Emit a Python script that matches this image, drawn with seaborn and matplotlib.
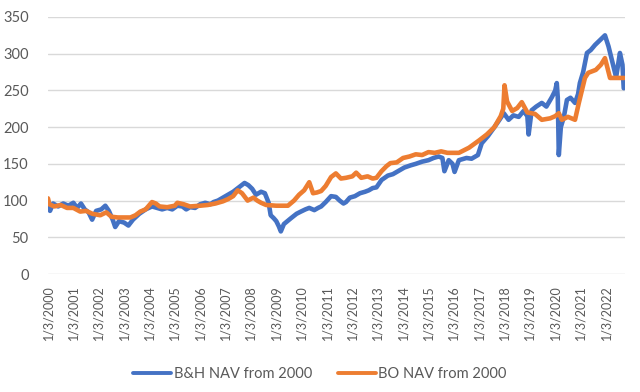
import matplotlib
matplotlib.use("Agg")
import matplotlib.pyplot as plt
import seaborn as sns
import pandas as pd
from matplotlib.lines import Line2D

# ---- data (fractional year, NAV) ----
bh_t = [2000.00, 2000.08, 2000.20, 2000.40, 2000.60, 2000.80, 2001.00, 2001.15, 2001.30, 2001.45,
        2001.60, 2001.74, 2001.90, 2002.10, 2002.26, 2002.40, 2002.55, 2002.65, 2002.80, 2003.00,
        2003.17, 2003.35, 2003.60, 2003.85, 2004.10, 2004.30, 2004.50, 2004.70, 2004.90, 2005.10,
        2005.30, 2005.45, 2005.60, 2005.80, 2006.00, 2006.20, 2006.40, 2006.53, 2006.70, 2006.90,
        2007.10, 2007.30, 2007.60, 2007.75, 2007.90, 2008.05, 2008.20, 2008.40, 2008.55, 2008.70,
        2008.78, 2008.90, 2009.00, 2009.10, 2009.18, 2009.30, 2009.58, 2009.80, 2009.97, 2010.15,
        2010.30, 2010.50, 2010.65, 2010.77, 2010.95, 2011.16, 2011.35, 2011.50, 2011.65, 2011.75,
        2011.90, 2012.10, 2012.30, 2012.50, 2012.65, 2012.80, 2012.95, 2013.15, 2013.40, 2013.60,
        2013.80, 2014.05, 2014.30, 2014.50, 2014.75, 2015.00, 2015.20, 2015.40, 2015.55, 2015.63,
        2015.80, 2015.95, 2016.03, 2016.20, 2016.50, 2016.70, 2016.95, 2017.10, 2017.35, 2017.60,
        2017.80, 2017.97, 2018.16, 2018.35, 2018.56, 2018.75, 2018.90, 2018.95, 2019.07, 2019.25,
        2019.47, 2019.65, 2019.87, 2020.00, 2020.06, 2020.10, 2020.14, 2020.22, 2020.34, 2020.46,
        2020.60, 2020.78, 2020.90, 2020.97, 2021.10, 2021.25, 2021.40, 2021.57, 2021.75, 2021.96,
        2022.10, 2022.30, 2022.40, 2022.50, 2022.55, 2022.65, 2022.70]
bh_v = [100, 86, 96, 92, 96, 93, 97, 90, 96, 88,
        84, 74, 86, 88, 93, 86, 74, 64, 72, 70,
        66, 74, 82, 88, 92, 90, 88, 90, 88, 93,
        92, 88, 91, 90, 95, 97, 95, 98, 100, 104,
        108, 112, 120, 124, 121, 116, 108, 112, 110, 97,
        80, 76, 72, 65, 58, 68, 76, 82, 85, 88,
        90, 87, 90, 92, 98, 106, 105, 100, 96, 98,
        104, 106, 110, 112, 114, 117, 118, 128, 134, 136,
        140, 145, 148, 150, 153, 155, 158, 160, 158, 140,
        155, 150, 139, 155, 158, 157, 162, 178, 188, 200,
        210, 219, 210, 216, 214, 222, 215, 190, 223, 228,
        233, 228, 241, 250, 260, 240, 162, 200, 214, 237,
        240, 233, 245, 260, 275, 301, 305, 312, 318, 325,
        310, 282, 268, 290, 301, 285, 253]

bo_t = [2000.00, 2000.05, 2000.25, 2000.50, 2000.75, 2001.00, 2001.27, 2001.50, 2001.75, 2002.06,
        2002.30, 2002.50, 2002.75, 2003.25, 2003.45, 2003.64, 2003.85, 2004.10, 2004.25, 2004.40,
        2004.70, 2005.00, 2005.10, 2005.35, 2005.60, 2006.00, 2006.30, 2006.60, 2006.90, 2007.10,
        2007.30, 2007.48, 2007.65, 2007.87, 2008.10, 2008.25, 2008.40, 2008.60, 2009.00, 2009.46,
        2009.70, 2009.90, 2010.10, 2010.30, 2010.45, 2010.60, 2010.77, 2010.95, 2011.16, 2011.35,
        2011.55, 2011.75, 2012.00, 2012.15, 2012.35, 2012.60, 2012.80, 2012.95, 2013.15, 2013.35,
        2013.50, 2013.75, 2014.00, 2014.25, 2014.50, 2014.75, 2015.00, 2015.25, 2015.50, 2015.75,
        2016.00, 2016.20, 2016.60, 2017.00, 2017.30, 2017.60, 2017.85, 2017.95, 2018.00, 2018.10,
        2018.30, 2018.50, 2018.68, 2018.90, 2019.20, 2019.47, 2019.80, 2020.00, 2020.14, 2020.26,
        2020.50, 2020.78, 2020.93, 2021.17, 2021.30, 2021.60, 2021.80, 2021.96, 2022.16, 2022.72]
bo_v = [103, 95, 92, 94, 90, 90, 85, 86, 82, 80,
        84, 78, 77, 77, 80, 85, 88, 98, 96, 92,
        91, 93, 97, 95, 92, 93, 94, 96, 99, 102,
        106, 114, 110, 100, 104, 100, 97, 94, 93, 93,
        100, 108, 114, 125, 110, 111, 113, 120, 132, 137,
        130, 131, 133, 138, 131, 133, 130, 131, 140, 147,
        151, 152, 158, 160, 163, 162, 166, 165, 167, 165,
        165, 165, 172, 182, 190, 200, 215, 225, 257, 235,
        222, 226, 234, 220, 218, 210, 212, 215, 219, 210,
        214, 210, 233, 267, 274, 278, 285, 294, 267, 267]

series_names = ["B&H NAV from 2000", "BO NAV from 2000"]
series_colors = ["#4472C4", "#ED7D31"]
tick_years = list(range(2000, 2023))
tick_labels = [f"1/3/{y}" for y in tick_years]
y_ticks = [0, 50, 100, 150, 200, 250, 300, 350]

df = pd.concat([
    pd.DataFrame({"t": bh_t, "v": bh_v, "s": series_names[0]}),
    pd.DataFrame({"t": bo_t, "v": bo_v, "s": series_names[1]}),
])

sns.set_style("white")
plt.rcParams["font.family"] = ["Lato", "DejaVu Sans"]

fig = plt.figure(figsize=(6.4, 3.92), dpi=100)
ax = fig.add_axes([48 / 640, 1 - 274 / 392, 577 / 640, 257 / 392])

sns.lineplot(data=df, x="t", y="v", hue="s", palette=series_colors,
             hue_order=series_names, linewidth=3.3, ax=ax, legend=False,
             sort=True, estimator=None)

ax.set_xlim(2000, 2022.75)
ax.set_ylim(0, 350)
ax.set_yticks(y_ticks)
ax.set_xticks(tick_years)
ax.set_xticklabels(tick_labels, rotation=90, fontsize=9, color="#595959")
ax.tick_params(axis="y", labelsize=10.5, labelcolor="#595959", length=0, pad=14)
ax.tick_params(axis="x", length=0, pad=8)
ax.set_xlabel("")
ax.set_ylabel("")
ax.grid(axis="y", color="#D9D9D9", linewidth=1)
ax.grid(axis="x", visible=False)
ax.set_axisbelow(True)
for sp in ax.spines.values():
    sp.set_visible(False)

handles = [Line2D([0], [0], color=c, lw=2.8) for c in series_colors]
leg = fig.legend(handles, series_names, loc="center", bbox_to_anchor=(0.5, 0.046),
                 ncol=2, frameon=False, fontsize=10.5, handlelength=2.6,
                 handletextpad=0.15, columnspacing=1.8)
for t in leg.get_texts():
    t.set_color("#595959")

fig.savefig("out.png", dpi=100)
